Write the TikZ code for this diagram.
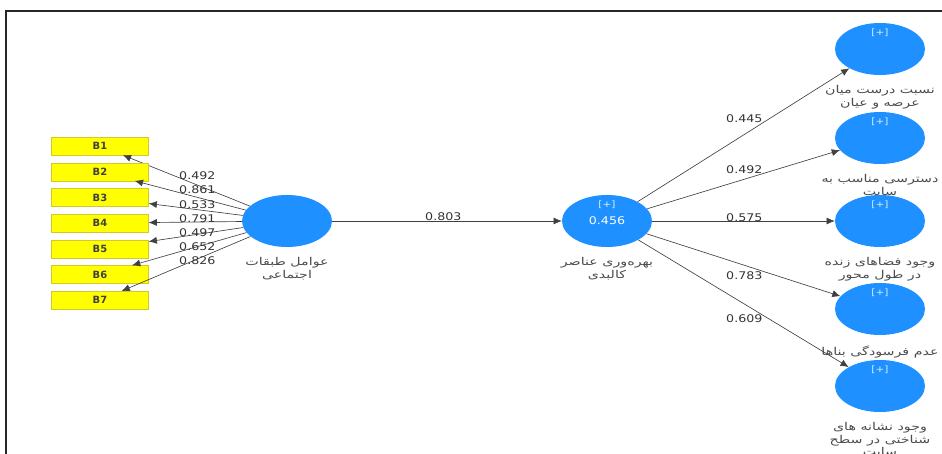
\documentclass[tikz,border=0pt]{standalone}
\usepackage{fontspec}
\setmainfont{DejaVu Sans}
\newfontfamily\arabicfont[Script=Arabic,FakeStretch=1.32]{DejaVu Sans}
\newfontfamily\numfont[FakeStretch=1.2]{DejaVu Sans}
\TeXXeTstate=1
\usetikzlibrary{shapes.geometric,arrows.meta}
\definecolor{lvblue}{RGB}{30,144,255}
\definecolor{itemyellow}{RGB}{255,255,0}
\tikzset{
  lv/.style={ellipse,fill=lvblue,minimum width=2.7cm,minimum height=1.56cm,inner sep=0pt,
    text=white,font=\numfont\fontsize{9}{10}\selectfont},
  plus/.style={label={[anchor=north,yshift=-0.17cm,inner sep=0pt,text=white!85!lvblue,
    font=\numfont\fontsize{7.5}{8}\selectfont]north:{[+]}}},
  lvname/.style={label={[anchor=north,yshift=-0.31cm,inner sep=0pt,align=center,text=black!70,
    font=\arabicfont\fontsize{9.2}{10.4}\selectfont]south:{#1}}},
  item/.style={rectangle,fill=itemyellow,draw=yellow!80!black,line width=0.3pt,minimum width=2.91cm,
    minimum height=0.54cm,inner sep=0pt,font=\bfseries\fontsize{8.5}{9}\selectfont,text=black!75},
  num/.style={font=\numfont\fontsize{9}{10}\selectfont,text=black!80,inner sep=0pt,anchor=west},
  path/.style={->,draw=black!75,line width=0.55pt}
}
\begin{document}
\begin{tikzpicture}[>={Latex[length=7pt,width=6pt]},x=0.03cm,y=-0.03cm]
\useasboundingbox (0,0) rectangle (942,454);
\draw[line width=1.6pt,black!85] (942,11) -- (6,11) -- (6,454);
% latent variables
\node[lv,lvname={\beginR عوامل طبقات\endR\\\beginR اجتماعی\endR}] (soc) at (287,221) {};
\node[lv,plus,lvname={\beginR بهره‌وری عناصر\endR\\\beginR کالبدی\endR}] (phys) at (607,221) {0.456};
\node[lv,plus,lvname={\beginR نسبت درست میان\endR\\\beginR عرصه و عیان\endR}] (r1) at (880,49) {};
\node[lv,plus,lvname={\beginR دسترسی مناسب به\endR\\\beginR سایت\endR}] (r2) at (880,138) {};
\node[lv,plus,lvname={\beginR وجود فضاهای زنده\endR\\\beginR در طول محور\endR}] (r3) at (880,221) {};
\node[lv,plus,lvname={\beginR عدم فرسودگی بناها\endR}] (r4) at (880,309) {};
\node[lv,plus,lvname={\beginR وجود نشانه های\endR\\\beginR شناختی در سطح\endR\\\beginR سایت\endR}] (r5) at (880,386) {};
% indicators
\foreach \i/\w in {1/0.492,2/0.861,3/0.533,4/0.791,5/0.497,6/0.652,7/0.826}{
  \node[item] (b\i) at (100,{120.3+25.7*\i}) {B\i};
  \draw[path] (soc) -- (b\i);
  \node[num] at (179,{161.8+14.15*\i}) {\w};
}
\draw[path] (soc) -- (phys);
\node[num] at (425,217) {0.803};
\foreach \i/\w/\y in {1/0.445/119,2/0.492/170,3/0.575/218,4/0.783/276,5/0.609/319}{
  \draw[path] (phys) -- (r\i);
  \node[num] at (726,\y) {\w};
}
\end{tikzpicture}
\end{document}
